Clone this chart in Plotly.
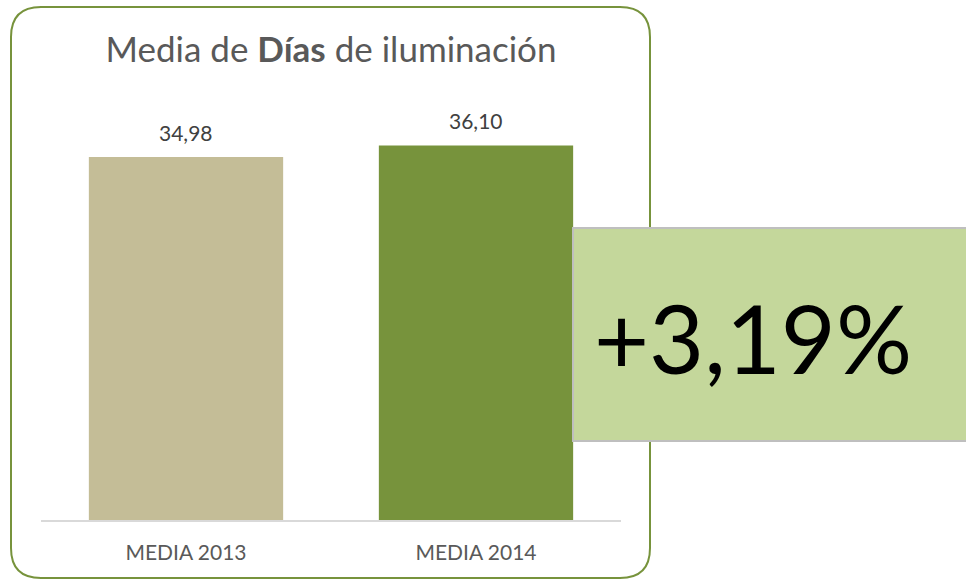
import plotly.graph_objects as go

categories = ["MEDIA 2013", "MEDIA 2014"]
values = [34.98, 36.10]
value_labels = ["34,98", "36,10"]
bar_colors = ["#C4BD97", "#77933C"]
change_label = "+3,19%"
title_text = "Media de <b>Días</b> de iluminación"

W, H = 966, 580
L, R, T, B = 41, 621, 105, 520  # plot area in pixels
FONT = "Lato, Open Sans, sans-serif"


def px(x):
    return (x - L) / (R - L)


def py(y):
    return (B - y) / (B - T)


fig = go.Figure()
fig.add_trace(go.Bar(
    x=categories, y=values, marker=dict(color=bar_colors, line=dict(width=0)),
    width=0.67, hoverinfo="skip",
))

for c, v, t in zip(categories, values, value_labels):
    fig.add_annotation(x=c, y=v, text=t, showarrow=False, yanchor="middle", yshift=25,
                       font=dict(family=FONT, size=21, color="#404040"))

# rounded border
x0, x1, y0, y1, r = 11, 650, 7, 578, 30
path = (f"M {px(x0 + r)} {py(y0)} L {px(x1 - r)} {py(y0)} "
        f"Q {px(x1)} {py(y0)} {px(x1)} {py(y0 + r)} "
        f"L {px(x1)} {py(y1 - r)} Q {px(x1)} {py(y1)} {px(x1 - r)} {py(y1)} "
        f"L {px(x0 + r)} {py(y1)} Q {px(x0)} {py(y1)} {px(x0)} {py(y1 - r)} "
        f"L {px(x0)} {py(y0 + r)} Q {px(x0)} {py(y0)} {px(x0 + r)} {py(y0)} Z")
fig.add_shape(type="path", xref="paper", yref="paper", path=path,
              line=dict(color="#77933C", width=2), layer="below")

# green change box
fig.add_shape(type="rect", xref="paper", yref="paper",
              x0=px(573), x1=px(968), y0=py(441), y1=py(228),
              fillcolor="#C4D79B", line=dict(color="#BFBFBF", width=2), layer="above")
fig.add_annotation(xref="paper", yref="paper", x=px(753), y=py(337), text=change_label,
                   showarrow=False, xanchor="center", yanchor="middle",
                   font=dict(family=FONT, size=95, color="#000000"))

fig.update_layout(
    width=W, height=H,
    margin=dict(l=L, r=W - R, t=T, b=H - B, pad=0),
    paper_bgcolor="white", plot_bgcolor="white",
    showlegend=False,
    title=dict(text=title_text, x=0.5, xref="paper", xanchor="center",
               y=1 - 50 / H, yanchor="middle",
               font=dict(family=FONT, size=35, color="#595959")),
    xaxis=dict(showgrid=False, showline=True, linecolor="#D9D9D9", linewidth=1.5,
               ticks="", tickfont=dict(family=FONT, size=21, color="#595959"),
               range=[-0.5, 1.5], fixedrange=True, ticklabelstandoff=13),
    yaxis=dict(range=[0, 40], visible=False, fixedrange=True),
)

fig.write_html("out.html", config={"displayModeBar": False})

with open("out.html", "r", encoding="utf-8") as f:
    html = f.read()
html = html.replace("<head>", "<head><style>html,body{margin:0;padding:0;overflow:hidden;}</style>", 1)
with open("out.html", "w", encoding="utf-8") as f:
    f.write(html)
